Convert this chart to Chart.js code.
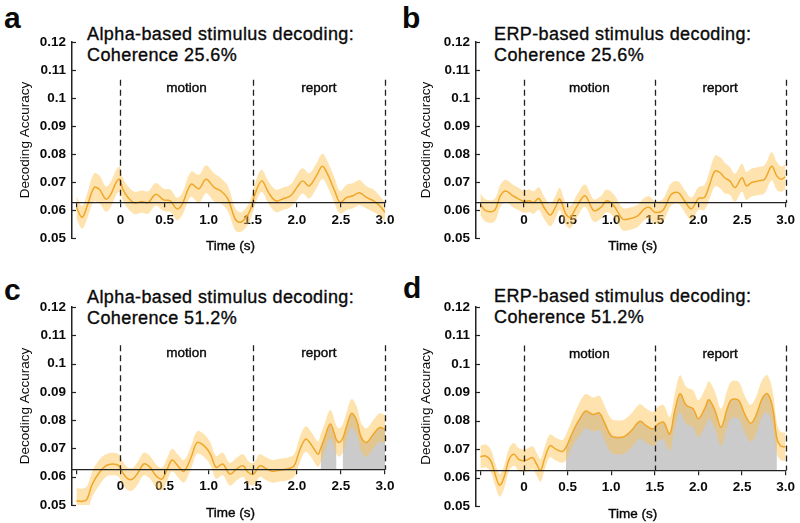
<!DOCTYPE html>
<html>
<head>
<meta charset="utf-8">
<script src="https://cdn.jsdelivr.net/npm/chart.js@4.4.1/dist/chart.umd.min.js"></script>
<style>
  body { margin: 0; width: 800px; height: 523px; position: relative; overflow: hidden; background: #fff;
         font-family: "Liberation Sans", Arial, sans-serif; color: #0a0a0a; }
  canvas { position: absolute; }
  .tag { position: absolute; font-size: 30px; line-height: 30px; font-weight: bold; }
  .ttl { position: absolute; font-size: 18px; line-height: 21px; letter-spacing: 0.4px; white-space: nowrap;
         -webkit-text-stroke: 0.35px #0a0a0a; }
</style>
</head>
<body>
<div class="tag" style="left:4px;top:3px">a</div>
<div class="tag" style="left:402px;top:3px">b</div>
<div class="tag" style="left:4px;top:275px">c</div>
<div class="tag" style="left:403px;top:273px">d</div>
<div class="ttl" style="left:87px;top:24px">Alpha-based stimulus decoding:<br>Coherence 25.6%</div>
<div class="ttl" style="left:494px;top:24px">ERP-based stimulus decoding:<br>Coherence 25.6%</div>
<div class="ttl" style="left:87px;top:287px">Alpha-based stimulus decoding:<br>Coherence 51.2%</div>
<div class="ttl" style="left:494px;top:286px">ERP-based stimulus decoding:<br>Coherence 51.2%</div>

<canvas id="ca" width="400" height="262" style="left:0;top:0"></canvas>
<canvas id="cb" width="400" height="262" style="left:400px;top:0"></canvas>
<canvas id="cc" width="400" height="261" style="left:0;top:262px"></canvas>
<canvas id="cd" width="400" height="261" style="left:400px;top:262px"></canvas>

<script>
// ---- data ----
const xTicks = [-0.5, 0, 0.5, 1.0, 1.5, 2.0, 2.5, 3.0];
const chance = 0.0625;
const epochLines = [0, 1.5, 3.0];
const epochNames = ["motion", "report"];
const epochCentres = [0.75, 2.25];

// a: alpha, 25.6%
const aTime = [-0.5, -0.435, -0.377, -0.3, -0.24, -0.165, -0.11, -0.05, -0.01, 0.027,
  0.085, 0.16, 0.24, 0.315, 0.4, 0.49, 0.565, 0.64, 0.7, 0.8,
  0.89, 0.97, 1.065, 1.14, 1.22, 1.3, 1.355, 1.41, 1.47, 1.52,
  1.6, 1.68, 1.76, 1.85, 1.93, 2.0, 2.065, 2.14, 2.22, 2.29,
  2.35, 2.43, 2.49, 2.565, 2.64, 2.71, 2.79, 2.87, 2.94, 3.0];
const aMean = [0.0609, 0.0574, 0.0615, 0.068, 0.0674, 0.0639, 0.0656, 0.0698, 0.071, 0.0674,
  0.0645, 0.0625, 0.063, 0.0627, 0.0656, 0.0636, 0.0633, 0.0604, 0.0621, 0.0692,
  0.0676, 0.071, 0.068, 0.0668, 0.0639, 0.0568, 0.0556, 0.0568, 0.0598, 0.0651,
  0.0704, 0.0662, 0.0633, 0.0641, 0.0651, 0.068, 0.0704, 0.0686, 0.0721, 0.0756,
  0.0727, 0.0668, 0.0627, 0.0645, 0.0651, 0.0662, 0.0645, 0.0633, 0.0615, 0.0592];
const aErr = [0.004, 0.004, 0.0045, 0.005, 0.005, 0.0045, 0.0045, 0.0045, 0.0045, 0.004,
  0.004, 0.004, 0.004, 0.004, 0.004, 0.004, 0.004, 0.004, 0.004, 0.0045,
  0.005, 0.005, 0.005, 0.0045, 0.0045, 0.004, 0.0035, 0.0035, 0.0035, 0.004,
  0.004, 0.004, 0.004, 0.004, 0.004, 0.0045, 0.0045, 0.0045, 0.0045, 0.0045,
  0.0045, 0.0045, 0.004, 0.0045, 0.0045, 0.0045, 0.004, 0.004, 0.0035, 0.0035];
const aSig = [];

// b: ERP, 25.6%
const bTime = [-0.5, -0.44, -0.34, -0.27, -0.21, -0.13, -0.06, 0, 0.06, 0.11,
  0.17, 0.23, 0.3, 0.36, 0.41, 0.48, 0.53, 0.61, 0.7, 0.8,
  0.88, 0.95, 1.03, 1.13, 1.2, 1.3, 1.38, 1.44, 1.5, 1.59,
  1.69, 1.77, 1.84, 1.92, 2.0, 2.07, 2.13, 2.19, 2.25, 2.3,
  2.36, 2.42, 2.5, 2.55, 2.61, 2.69, 2.76, 2.84, 2.9, 2.95, 3.0];
const bMean = [0.0621, 0.0598, 0.0598, 0.0651, 0.0668, 0.0651, 0.0639, 0.063, 0.0633, 0.0627,
  0.0641, 0.0609, 0.0582, 0.0609, 0.0639, 0.0586, 0.0574, 0.0615, 0.0651, 0.0598,
  0.0609, 0.0633, 0.0615, 0.0568, 0.0568, 0.0578, 0.0604, 0.0609, 0.0592, 0.0598,
  0.0656, 0.0662, 0.0633, 0.0604, 0.0641, 0.0645, 0.0692, 0.0739, 0.0733, 0.0715,
  0.0704, 0.068, 0.0715, 0.0686, 0.0698, 0.0704, 0.071, 0.0756, 0.0721, 0.071, 0.0719];
const bErr = [0.004, 0.004, 0.004, 0.004, 0.004, 0.004, 0.004, 0.004, 0.004, 0.004,
  0.004, 0.004, 0.004, 0.004, 0.004, 0.004, 0.004, 0.004, 0.004, 0.004,
  0.004, 0.004, 0.004, 0.004, 0.004, 0.004, 0.004, 0.004, 0.004, 0.004,
  0.004, 0.004, 0.004, 0.004, 0.004, 0.0045, 0.005, 0.0055, 0.0055, 0.0055,
  0.005, 0.005, 0.005, 0.005, 0.005, 0.005, 0.005, 0.005, 0.005, 0.0045, 0.0045];
const bSig = [];

// c: alpha, 51.2%
const cTime = [-0.5, -0.435, -0.38, -0.32, -0.24, -0.165, -0.09, -0.02, 0.03, 0.085,
  0.14, 0.2, 0.265, 0.335, 0.4, 0.47, 0.53, 0.585, 0.65, 0.72,
  0.8, 0.87, 0.95, 1.02, 1.085, 1.16, 1.24, 1.315, 1.39, 1.45,
  1.51, 1.58, 1.66, 1.73, 1.81, 1.89, 1.97, 2.03, 2.1, 2.16,
  2.24, 2.27, 2.31, 2.38, 2.45, 2.48, 2.52, 2.56, 2.62, 2.68,
  2.73, 2.79, 2.87, 2.94, 3.0];
const cMean = [0.0515, 0.0513, 0.0521, 0.0574, 0.0615, 0.0639, 0.0645, 0.0639, 0.0612, 0.0592,
  0.0592, 0.0615, 0.0645, 0.0633, 0.0604, 0.0592, 0.0627, 0.0659, 0.0639, 0.0619,
  0.0668, 0.0721, 0.0709, 0.068, 0.0633, 0.0645, 0.0609, 0.0627, 0.0639, 0.0615,
  0.0609, 0.0639, 0.0627, 0.0619, 0.0624, 0.0627, 0.0639, 0.0692, 0.0733, 0.0715,
  0.068, 0.070, 0.0733, 0.0786, 0.073, 0.0721, 0.0735, 0.0774, 0.0824, 0.0798,
  0.0739, 0.0721, 0.0751, 0.0774, 0.0768];
const cErr = [0.0045, 0.0045, 0.0045, 0.0045, 0.0045, 0.004, 0.004, 0.004, 0.004, 0.004,
  0.004, 0.004, 0.004, 0.004, 0.004, 0.004, 0.004, 0.004, 0.004, 0.004,
  0.004, 0.004, 0.004, 0.004, 0.004, 0.004, 0.004, 0.004, 0.004, 0.004,
  0.004, 0.004, 0.004, 0.004, 0.004, 0.004, 0.004, 0.0045, 0.0045, 0.0045,
  0.0045, 0.005, 0.005, 0.005, 0.005, 0.005, 0.005, 0.005, 0.005, 0.005,
  0.005, 0.005, 0.005, 0.005, 0.005];
const cSig = [[2.27, 2.45], [2.52, 3.0]];

// d: ERP, 51.2%
const dTime = [-0.5, -0.44, -0.38, -0.33, -0.28, -0.23, -0.17, -0.115, -0.06, 0,
  0.05, 0.1, 0.145, 0.19, 0.24, 0.3, 0.365, 0.44, 0.48, 0.575,
  0.65, 0.71, 0.79, 0.865, 0.92, 1.0, 1.08, 1.15, 1.23, 1.33,
  1.4, 1.48, 1.54, 1.6, 1.67, 1.73, 1.79, 1.86, 1.94, 2.0,
  2.08, 2.12, 2.19, 2.26, 2.33, 2.38, 2.46, 2.53, 2.6, 2.66,
  2.73, 2.79, 2.85, 2.9, 2.94, 3.0];
const dMean = [0.0673, 0.0676, 0.0659, 0.0611, 0.0573, 0.0599, 0.0664, 0.0682, 0.0664, 0.0659,
  0.0664, 0.067, 0.0647, 0.0625, 0.067, 0.0712, 0.07, 0.0692, 0.0705, 0.0771,
  0.0812, 0.0834, 0.0822, 0.0827, 0.0796, 0.0747, 0.0741, 0.0744, 0.0765, 0.0798,
  0.0783, 0.0771, 0.0789, 0.0795, 0.0753, 0.0836, 0.0895, 0.0854, 0.0842, 0.0807,
  0.0848, 0.0874, 0.0836, 0.0777, 0.0842, 0.0874, 0.0872, 0.0824, 0.0791, 0.0818,
  0.0877, 0.0895, 0.0848, 0.0738, 0.0712, 0.0708];
const dErr = [0.004, 0.004, 0.004, 0.004, 0.004, 0.004, 0.004, 0.004, 0.004, 0.004,
  0.004, 0.004, 0.004, 0.004, 0.004, 0.004, 0.004, 0.004, 0.0045, 0.005,
  0.006, 0.006, 0.006, 0.006, 0.006, 0.006, 0.006, 0.006, 0.006, 0.006,
  0.006, 0.006, 0.006, 0.006, 0.006, 0.006, 0.0065, 0.0065, 0.0065, 0.0065,
  0.0065, 0.0065, 0.0065, 0.0065, 0.0065, 0.0065, 0.0065, 0.0065, 0.0065, 0.0065,
  0.0065, 0.0065, 0.006, 0.0055, 0.005, 0.005];
const dSig = [[0.48, 2.9]];

// ---- styling ----
const font = '"Liberation Sans", Arial, sans-serif';
const lineColor = "#f0a628";
const bandColor = "rgba(252, 194, 76, 0.45)";
const sigColor = "#cbcbcb";
const axisColor = "#222";
const textColor = "#0a0a0a";
const dashTop = 0.1065;
const labelY = 0.1035;

const overlay = {
  id: "overlay",
  afterDraw(chart) {
    const { ctx, chartArea: a, scales: { x, y } } = chart;
    ctx.save();
    // small inward ticks on the y axis
    ctx.strokeStyle = axisColor;
    ctx.lineWidth = 1.2;
    y.ticks.forEach(t => {
      const py = Math.round(y.getPixelForValue(t.value)) + 0.5;
      ctx.beginPath();
      ctx.moveTo(a.left, py);
      ctx.lineTo(a.left + 4, py);
      ctx.stroke();
    });
    // epoch boundaries
    ctx.setLineDash([6, 4]);
    ctx.lineWidth = 1.3;
    epochLines.forEach(t => {
      const px = Math.round(x.getPixelForValue(t)) + 0.5;
      ctx.beginPath();
      ctx.moveTo(px, y.getPixelForValue(dashTop));
      ctx.lineTo(px, y.getPixelForValue(chance));
      ctx.stroke();
    });
    ctx.setLineDash([]);
    ctx.fillStyle = textColor;
    ctx.strokeStyle = textColor;
    ctx.lineWidth = 0.4;
    ctx.font = "13.5px " + font;
    ctx.textAlign = "center";
    ctx.textBaseline = "middle";
    epochNames.forEach((n, i) => {
      const px = x.getPixelForValue(epochCentres[i]), py = y.getPixelForValue(labelY);
      ctx.fillText(n, px, py);
      ctx.strokeText(n, px, py);
    });
    const tx = (a.left + a.right) / 2 + 2, ty = a.bottom + 8;
    ctx.fillText("Time (s)", tx, ty);
    ctx.strokeText("Time (s)", tx, ty);
    ctx.restore();
  }
};

function makeChart(id, time, mean, err, sig, pad, titlePad) {
  const pts = vals => time.map((t, i) => ({ x: t, y: vals[i] }));
  const upper = mean.map((m, i) => m + err[i]);
  const lower = mean.map((m, i) => m - err[i]);
  const shade = mean.map((m, i) =>
    sig.some(s => time[i] >= s[0] - 1e-9 && time[i] <= s[1] + 1e-9) ? m : null);

  return new Chart(document.getElementById(id), {
    type: "line",
    data: {
      datasets: [
        { data: pts(mean), borderColor: lineColor, borderWidth: 1.5, fill: false, order: 0 },
        { data: pts(upper), borderWidth: 0, backgroundColor: bandColor, fill: "+1", order: 1 },
        { data: pts(lower), borderWidth: 0, fill: false, order: 1 },
        { data: pts(shade), borderWidth: 0, backgroundColor: sigColor, fill: { value: chance }, order: 2 }
      ]
    },
    options: {
      responsive: false,
      animation: false,
      devicePixelRatio: 1,
      layout: { padding: pad },
      plugins: { legend: { display: false }, tooltip: { enabled: false } },
      elements: { point: { radius: 0 }, line: { tension: 0.35 } },
      scales: {
        x: {
          type: "linear", min: -0.55, max: 3.0,
          position: { y: chance },
          afterBuildTicks: s => { s.ticks = xTicks.map(v => ({ value: v })); },
          grid: { display: true, drawOnChartArea: false, drawTicks: true, tickLength: 4, color: axisColor, lineWidth: 1.2, z: 1 },
          border: { display: true, color: axisColor, width: 1.3, z: 1 },
          ticks: {
            autoSkip: false, maxRotation: 0, padding: 5, color: textColor,
            font: { family: font, size: 13.5, weight: "bold" },
            callback: v => v === -0.5 ? "" : (v === 0 ? "0" : v.toFixed(1))
          }
        },
        y: {
          min: 0.05, max: 0.12,
          afterFit: s => { s.width = 60; },
          grid: { display: false, drawTicks: false },
          border: { display: true, color: axisColor, width: 1.5, z: 1 },
          ticks: {
            stepSize: 0.01, padding: 6, color: textColor,
            font: { family: font, size: 13.5, weight: "bold" },
            callback: v => String(+v.toFixed(2))
          },
          title: {
            display: true, text: "Decoding Accuracy", color: textColor,
            padding: { top: titlePad, bottom: 0 },
            font: { family: font, size: 13.5 }
          }
        }
      }
    },
    plugins: [overlay]
  });
}

makeChart("ca", aTime, aMean, aErr, aSig, { left: 12, right: 15, top: 42, bottom: 24 }, 5);
makeChart("cb", bTime, bMean, bErr, bSig, { left: 16, right: 13, top: 42, bottom: 24 }, 2);
makeChart("cc", cTime, cMean, cErr, cSig, { left: 12, right: 15, top: 45, bottom: 18 }, 5);
makeChart("cd", dTime, dMean, dErr, dSig, { left: 16, right: 13, top: 45, bottom: 17 }, 2);
</script>
</body>
</html>
